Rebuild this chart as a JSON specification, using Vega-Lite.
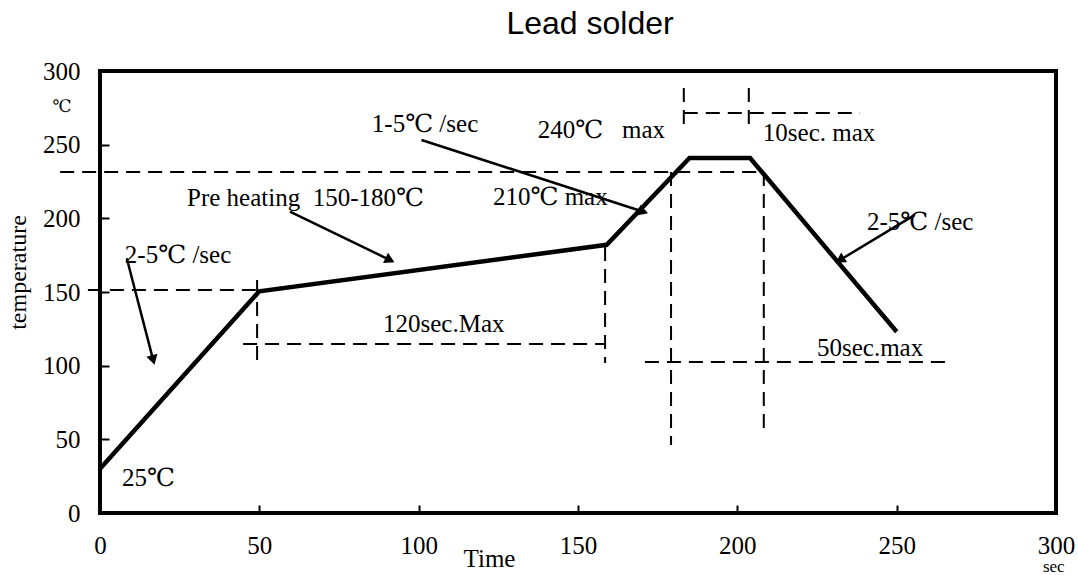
{
  "$schema": "https://vega.github.io/schema/vega-lite/v6.json",
  "width": 956,
  "height": 442,
  "autosize": {"type": "none"},
  "padding": {"left": 100, "top": 71, "right": 22, "bottom": 62},
  "background": "white",
  "title": {"text": "Lead solder", "font": "Liberation Sans", "fontSize": 32, "fontWeight": "normal", "color": "black", "anchor": "middle", "frame": "group", "dx": 12, "offset": -7, "baseline": "alphabetic"},
  "config": {
    "view": {"stroke": "black", "strokeWidth": 4},
    "axis": {"grid": false, "domain": false, "tickColor": "black", "tickWidth": 2, "labelColor": "black", "labelFont": "Liberation Serif", "labelFontSize": 25, "titleFont": "Liberation Serif", "titleFontWeight": "normal", "titleColor": "black", "labelFlush": false, "labelOverlap": false}
  },
  "datasets": {
    "profile": [
      {"t": 0, "temp": 30},
      {"t": 50, "temp": 150.5},
      {"t": 159, "temp": 182},
      {"t": 185, "temp": 241},
      {"t": 204, "temp": 241},
      {"t": 250, "temp": 123}
    ],
    "dashes": [
      {"x": -12.5, "y": 231.4, "x2": 207, "y2": 231.4},
      {"x": -3.8, "y": 151.4, "x2": 50, "y2": 151.4},
      {"x": 49.3, "y": 158.1, "x2": 49.3, "y2": 101.8},
      {"x": 44.9, "y": 114.7, "x2": 158.5, "y2": 114.7},
      {"x": 158.5, "y": 180.5, "x2": 158.5, "y2": 101.8},
      {"x": 183.2, "y": 271.5, "x2": 238.5, "y2": 271.5},
      {"x": 183.2, "y": 288.5, "x2": 183.2, "y2": 263.4},
      {"x": 203.6, "y": 288.5, "x2": 203.6, "y2": 263.4},
      {"x": 179.2, "y": 231.4, "x2": 179.2, "y2": 46.2},
      {"x": 208.3, "y": 231.4, "x2": 208.3, "y2": 55},
      {"x": 171, "y": 102.5, "x2": 267.3, "y2": 102.5}
    ],
    "arrows": [
      {"x": 8.4, "y": 172.9, "x2": 16.7, "y2": 103.8, "heading": 165},
      {"x": 59.6, "y": 204.5, "x2": 91, "y2": 171.7, "heading": 116},
      {"x": 100.9, "y": 253.2, "x2": 170.5, "y2": 204.5, "heading": 108},
      {"x": 255.7, "y": 202.3, "x2": 232.2, "y2": 171.7, "heading": 239}
    ],
    "labels": [
      {"text": "2-5℃ /sec", "x": 7.8, "y": 175.1},
      {"text": "25℃", "x": 6.9, "y": 23.8},
      {"text": "Pre heating\u00a0 150-180℃", "x": 27.3, "y": 213.8},
      {"text": "1-5℃ /sec", "x": 85.3, "y": 264},
      {"text": "240℃\u00a0\u00a0 max", "x": 137.4, "y": 260},
      {"text": "210℃ max", "x": 123.3, "y": 214.5},
      {"text": "10sec. max", "x": 208, "y": 258},
      {"text": "120sec.Max", "x": 88.8, "y": 128.3},
      {"text": "2-5℃ /sec", "x": 240.7, "y": 197.5},
      {"text": "50sec.max", "x": 225, "y": 112}
    ],
    "units": [
      {"text": "℃", "x": -11.9, "y": 272.2},
      {"text": "sec", "x": 299.3, "y": -40.3}
    ]
  },
  "layer": [
    {
      "data": {"name": "dashes"},
      "mark": {"type": "rule", "strokeDash": [14, 8], "strokeWidth": 2, "color": "black"},
      "encoding": {
        "x": {"field": "x", "type": "quantitative", "scale": {"domain": [0, 300], "nice": false, "zero": false},
          "axis": {"values": [0, 50, 100, 150, 200, 250, 300], "tickSize": -8, "labelPadding": 28, "title": "Time", "titleFontSize": 25, "titleX": 389, "titleY": 45, "titleBaseline": "middle", "titleAlign": "center"}},
        "y": {"field": "y", "type": "quantitative", "scale": {"domain": [0, 300], "nice": false, "zero": false},
          "axis": {"values": [0, 50, 100, 150, 200, 250, 300], "tickSize": -9, "labelPadding": 29, "title": "temperature", "titleFontSize": 24, "titleX": -82, "titleY": 201, "titleAngle": -90, "titleBaseline": "middle", "titleAlign": "center"}},
        "x2": {"field": "x2"},
        "y2": {"field": "y2"}
      }
    },
    {
      "data": {"name": "profile"},
      "mark": {"type": "line", "color": "black", "strokeWidth": 4.5},
      "encoding": {
        "x": {"field": "t", "type": "quantitative"},
        "y": {"field": "temp", "type": "quantitative"}
      }
    },
    {
      "data": {"name": "arrows"},
      "mark": {"type": "rule", "color": "black", "strokeWidth": 2.5},
      "encoding": {
        "x": {"field": "x", "type": "quantitative"},
        "y": {"field": "y", "type": "quantitative"},
        "x2": {"field": "x2"},
        "y2": {"field": "y2"}
      }
    },
    {
      "data": {"name": "arrows"},
      "mark": {"type": "point", "shape": "triangle-up", "filled": true, "color": "black", "opacity": 1, "size": 130},
      "encoding": {
        "x": {"field": "x2", "type": "quantitative"},
        "y": {"field": "y2", "type": "quantitative"},
        "angle": {"field": "heading", "type": "quantitative", "scale": null}
      }
    },
    {
      "data": {"name": "labels"},
      "mark": {"type": "text", "align": "left", "baseline": "middle", "font": "Liberation Serif, DejaVu Serif", "fontSize": 25, "color": "black"},
      "encoding": {
        "x": {"field": "x", "type": "quantitative"},
        "y": {"field": "y", "type": "quantitative"},
        "text": {"field": "text"}
      }
    },
    {
      "data": {"name": "units"},
      "mark": {"type": "text", "align": "center", "baseline": "alphabetic", "font": "Liberation Serif, DejaVu Serif", "fontSize": 17, "color": "black"},
      "encoding": {
        "x": {"field": "x", "type": "quantitative"},
        "y": {"field": "y", "type": "quantitative"},
        "text": {"field": "text"}
      }
    }
  ]
}
